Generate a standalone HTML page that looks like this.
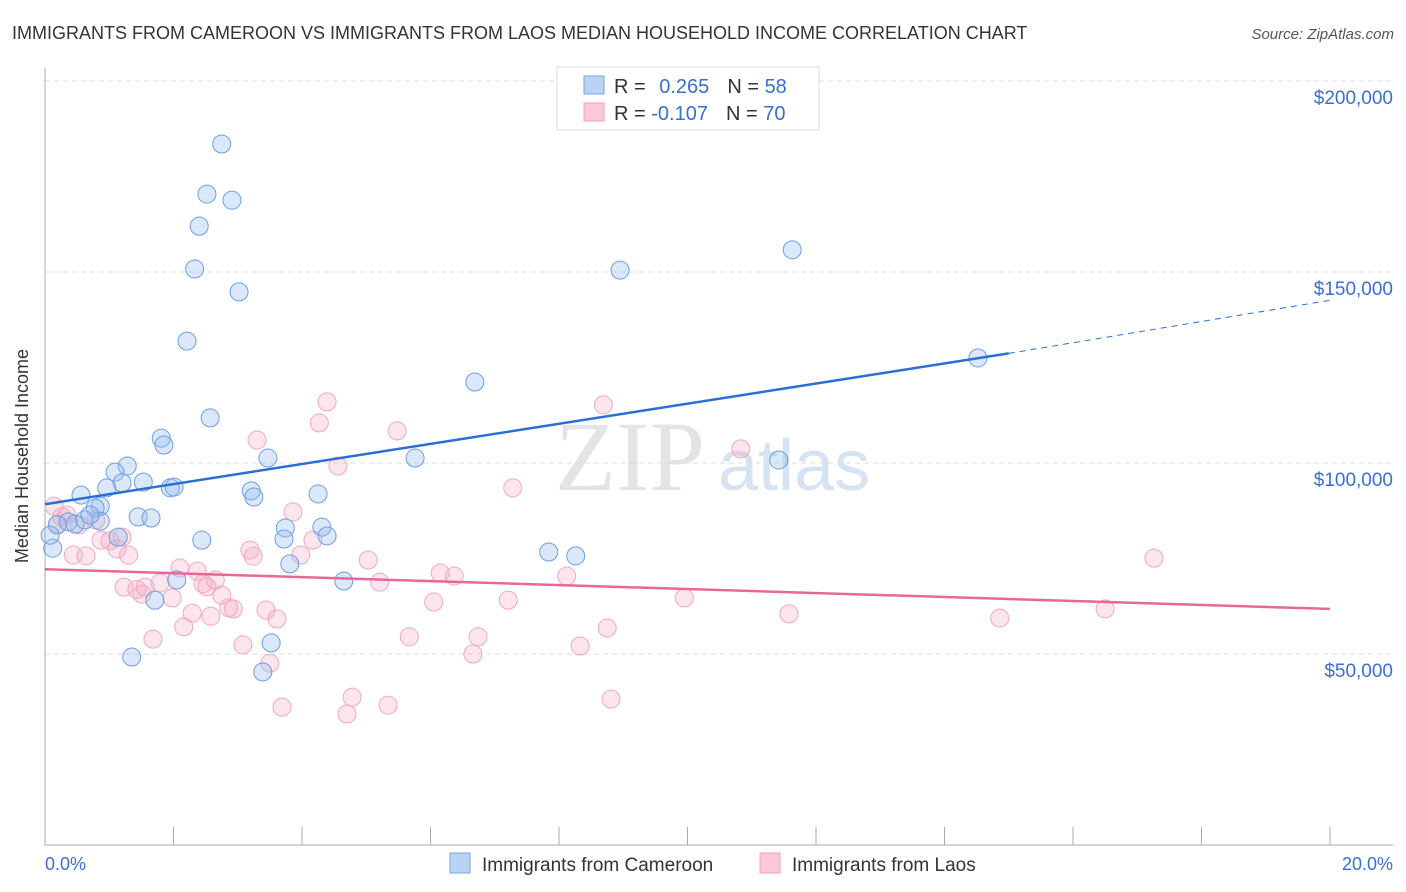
<!DOCTYPE html>
<html><head><meta charset="utf-8"><style>
body{margin:0;background:#fff;font-family:"Liberation Sans",sans-serif;}
svg{display:block}
</style></head><body>
<svg id="chart" width="1406" height="892" xmlns="http://www.w3.org/2000/svg">
<text x="12" y="39" font-size="18" fill="#333">IMMIGRANTS FROM CAMEROON VS IMMIGRANTS FROM LAOS MEDIAN HOUSEHOLD INCOME CORRELATION CHART</text>
<text x="1394" y="39" font-size="15" fill="#555" font-style="italic" text-anchor="end">Source: ZipAtlas.com</text>
<text x="28" y="456" font-size="18" fill="#333" transform="rotate(-90 28 456)" text-anchor="middle">Median Household Income</text>
<text x="555" y="490" font-size="100" fill="#e4e4e4" font-family="Liberation Serif,serif">ZIP</text>
<text x="718" y="490" font-size="72" fill="#d6e3f3">atlas</text>
<g id="grid"></g><g id="pts"></g><g id="lines"></g>
<g>
<rect x="557" y="67" width="262" height="63" fill="#fff" stroke="#ddd"/>
<rect x="584" y="76" width="20" height="18" fill="#b9d3f3" stroke="#7aa6e0"/>
<rect x="584" y="103" width="20" height="18" fill="#fbc8d8" stroke="#efa0b8"/>
<text x="614" y="93" font-size="20" fill="#333">R = <tspan fill="#3a6fd0" dx="8">0.265</tspan><tspan dx="18" fill="#333">N = </tspan><tspan fill="#3a6fd0">58</tspan></text>
<text x="614" y="120" font-size="20" fill="#333">R = <tspan fill="#3a6fd0">-0.107</tspan><tspan dx="18" fill="#333">N = </tspan><tspan fill="#3a6fd0">70</tspan></text>
</g>
<g>
<rect x="450" y="853" width="20" height="20" fill="#b9d3f3" stroke="#7aa6e0"/>
<text x="482" y="871" font-size="19" fill="#333">Immigrants from Cameroon</text>
<rect x="760" y="853" width="20" height="20" fill="#fbc8d8" stroke="#efa0b8"/>
<text x="792" y="871" font-size="19" fill="#333">Immigrants from Laos</text>
</g>
<text x="45" y="870" font-size="18" fill="#3a6fd0">0.0%</text>
<text x="1393" y="870" font-size="18" fill="#3a6fd0" text-anchor="end">20.0%</text>
</svg>
<script>
const yTicks=[50000,100000,150000,200000];
const yTickLabels=["$50,000","$100,000","$150,000","$200,000"];
const blueX=[2.75,2.52,2.91,2.40,2.33,3.02,2.21,2.57,1.81,1.85,3.47,1.28,1.09,1.53,1.20,0.96,1.95,2.01,3.21,3.25,0.56,0.86,0.78,4.25,5.76,6.69,8.95,11.63,14.52,11.42,7.84,8.26,1.45,1.65,1.14,2.44,3.74,3.72,4.31,4.39,3.81,2.05,4.65,1.71,3.52,1.35,3.39,0.19,0.36,0.47,0.62,0.86,0.12,0.08,0.70];
const blueY=[183.5,170.4,168.8,162,150.8,144.8,131.9,111.8,106.5,104.7,101.3,99.2,97.6,95,94.8,93.5,93.5,93.7,92.7,91.1,91.6,88.7,88.2,91.9,101.3,121.2,150.5,155.8,127.5,100.8,76.7,75.7,85.9,85.6,80.6,79.8,83,80.1,83.2,80.9,73.6,69.4,69.1,64.1,52.9,49.2,45.3,83.8,84.6,84,85.1,84.8,77.7,81.1,86.4];
const pinkX=[4.39,8.69,4.27,5.48,3.30,10.83,4.56,7.28,3.86,0.14,0.34,0.79,17.26,16.5,14.86,11.58,9.95,8.75,8.33,8.81,8.12,7.21,6.74,6.66,6.37,6.15,6.05,5.67,5.34,5.21,5.03,4.78,4.70,4.17,3.98,3.19,3.24,3.44,3.61,3.08,3.50,3.69,2.93,2.86,2.75,2.65,2.46,2.52,2.37,2.10,1.98,2.29,2.58,2.16,1.68,1.79,1.56,1.51,1.23,1.43,1.30,1.12,1.01,0.87,1.20,0.64,0.44,0.53,0.26,0.20];
const pinkY=[116,115.2,110.5,108.4,106,103.7,99.2,93.5,87.2,88.7,86.4,85.1,75.1,61.8,59.4,60.5,64.7,56.8,52.1,38.2,70.4,64.1,54.5,50,70.4,71.2,63.6,54.5,36.6,68.8,74.6,38.7,34.3,79.8,75.9,77.2,75.6,61.5,59.2,52.4,47.6,36.1,61.8,62.1,65.4,69.4,68.4,67.6,71.7,72.5,64.7,60.7,59.9,57.1,53.9,68.6,67.5,65.7,67.5,66.9,75.9,77.5,79.6,79.8,80.6,75.7,75.9,83.8,85.9,84];
const blueTrend=[[0,89.2],[15,128.7]], blueDash=[[15,128.7],[20,142.6]];
const pinkTrend=[[0,72.2],[20,61.8]];
const X=v=>45+v/20*1285, Y=v=>845-v/50000*191;
const ns="http://www.w3.org/2000/svg";
function mk(t,a,p){const e=document.createElementNS(ns,t);for(const k in a)e.setAttribute(k,a[k]);p.appendChild(e);return e;}
const grid=document.getElementById('grid');
yTicks.forEach((t,i)=>{
 const l=mk('line',{x1:45,x2:1393,y1:Y(t),y2:Y(t),stroke:'#ddd','stroke-dasharray':'5,4'},grid);
 
 
 const tx=mk('text',{x:1393,y:Y(t)+23,'font-size':19,fill:'#3a6fd0','text-anchor':'end'},grid);
 tx.textContent=yTickLabels[i];
 
 
});
const ax=mk('line',{x1:45,x2:45,y1:68,y2:845,stroke:'#aaa'},grid);


const bx=mk('line',{x1:45,x2:1393,y1:845,y2:845,stroke:'#aaa'},grid);


for(let i=1;i<=10;i++){const t=mk('line',{x1:X(i*2),x2:X(i*2),y1:827,y2:845,stroke:'#aaa'},grid);
 
 }
const pts=document.getElementById('pts');
pinkX.forEach((x,i)=>{const c=mk('circle',{cx:X(x),cy:Y(pinkY[i]*1000),r:9,fill:'rgba(246,170,195,0.3)',stroke:'#f0a8c0','stroke-width':1},pts);
 
 });
blueX.forEach((x,i)=>{const c=mk('circle',{cx:X(x),cy:Y(blueY[i]*1000),r:9,fill:'rgba(150,190,240,0.35)',stroke:'#6e9ee0','stroke-width':1},pts);
 
 });
const lg=document.getElementById('lines');
let l1=mk('line',{x1:X(blueTrend[0][0]),y1:Y(blueTrend[0][1]*1000),x2:X(blueTrend[1][0]),y2:Y(blueTrend[1][1]*1000),stroke:'#2a6fd6','stroke-width':2.5},lg);


let l2=mk('line',{x1:X(blueDash[0][0]),y1:Y(blueDash[0][1]*1000),x2:X(blueDash[1][0]),y2:Y(blueDash[1][1]*1000),stroke:'#2a6fd6','stroke-width':1,'stroke-dasharray':'6,5'},lg);


let l3=mk('line',{x1:X(pinkTrend[0][0]),y1:Y(pinkTrend[0][1]*1000),x2:X(pinkTrend[1][0]),y2:Y(pinkTrend[1][1]*1000),stroke:'#e8679a','stroke-width':2.5},lg);


</script>
</body></html>
